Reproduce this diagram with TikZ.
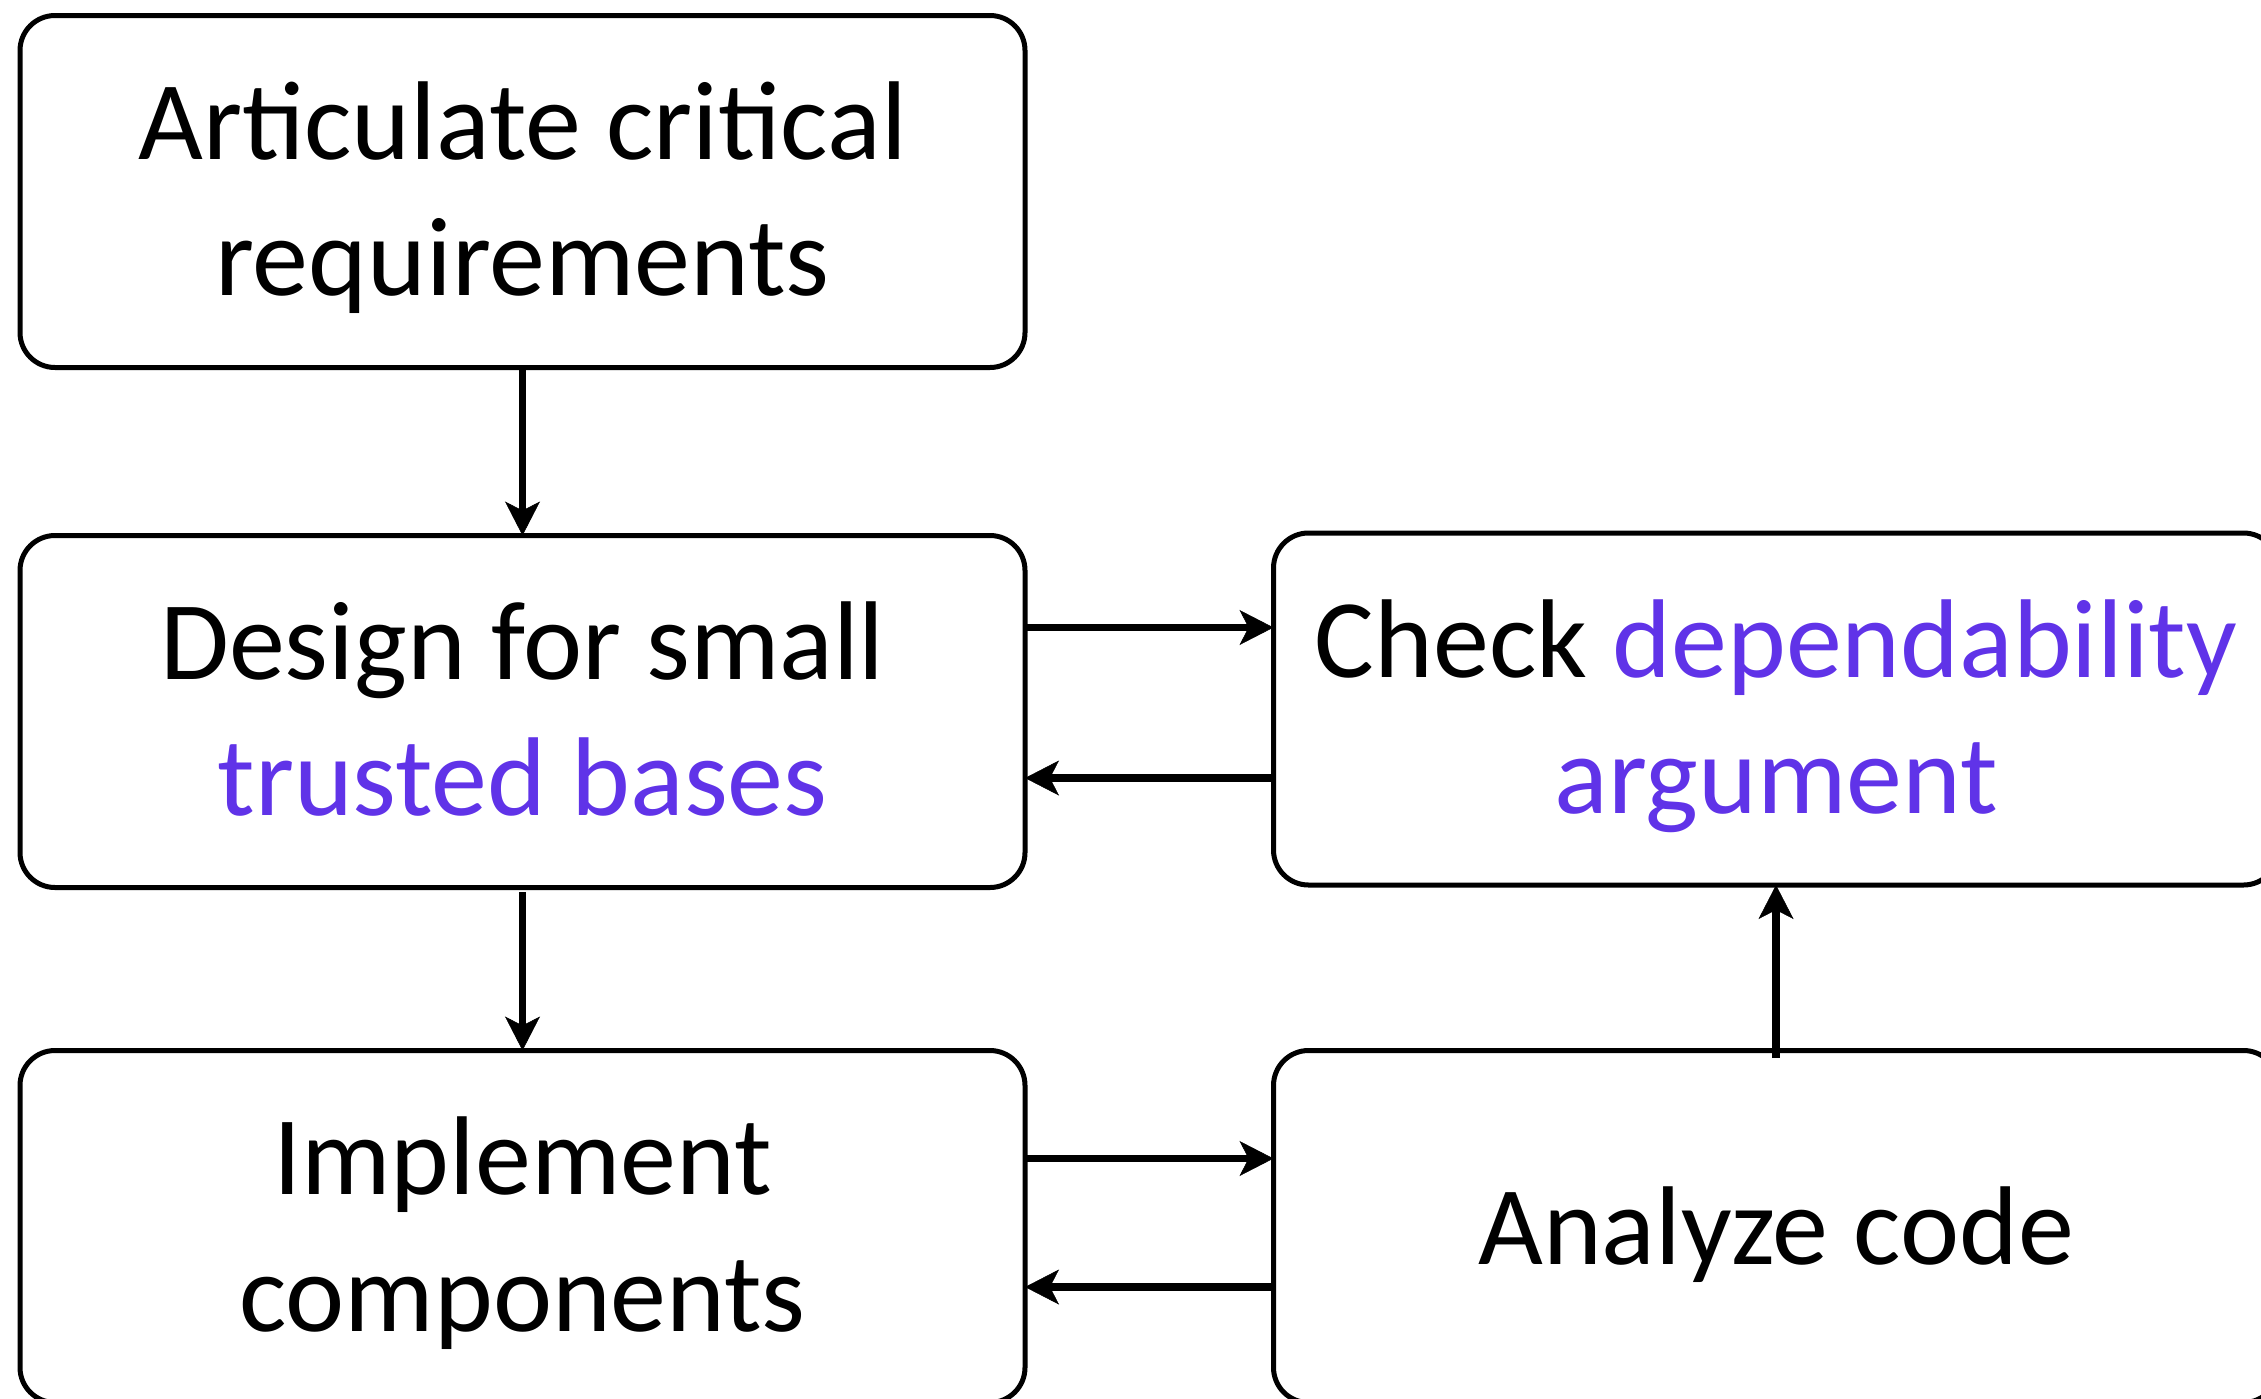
\documentclass[tikz,border=0pt]{standalone}
\usepackage{fontspec}
\setmainfont{Carlito}
\usetikzlibrary{arrows.meta}
\definecolor{accent}{RGB}{96,51,232}

\begin{document}
\begin{tikzpicture}[x=1pt,y=-1pt,
  stagebox/.style={draw=black, line width=5pt, rounded corners=35pt,
    minimum width=1005pt, minimum height=352pt, inner sep=0pt, outer sep=0pt},
  txt/.style={anchor=base, inner sep=0pt, font=\fontsize{112}{136}\selectfont},
  flow/.style={line width=7.5pt,
    -{Stealth[length=34pt,width=35pt,inset=9pt,line width=0.5pt]}}]

  \useasboundingbox (0,0) rectangle (2261,1398);

  % process stages
  \node[stagebox] (req)  at (522.5,191.5)  {};
  \node[stagebox] (des)  at (522.5,711.5)  {};
  \node[stagebox] (impl) at (522.5,1226.5) {};
  \node[stagebox] (chk)  at (1776,709)     {};
  \node[stagebox] (ana)  at (1776,1226.5)  {};

  % stage labels, one node per line
  \node[txt] (req1)  at (522.5,159)  {Articulate critical};
  \node[txt] (req2)  at (522.5,295)  {requirements};
  \node[txt] (des1)  at (522.5,679)  {Design for small};
  \node[txt, text=accent] (des2) at (522.5,815) {trusted bases};
  \node[txt] (impl1) at (522.5,1194) {Implement};
  \node[txt] (impl2) at (522.5,1331) {components};
  \node[txt] (chk1)  at (1776,677)   {Check \textcolor{accent}{dependability}};
  \node[txt, text=accent] (chk2) at (1776,813) {argument};
  \node[txt] (ana1)  at (1776,1264)  {Analyze code};

  % connectors
  \draw[flow] (req.south) -- (des.north);
  \draw[flow] ([yshift=-4.5pt]des.south) -- (impl.north);
  \draw[flow] ([yshift=84pt]des.east) -- ([yshift=84pt]des.east -| chk.west);
  \draw[flow] ([yshift=-69pt]chk.west) -- ([yshift=-69pt]chk.west -| des.east);
  \draw[flow] ([yshift=68pt]impl.east) -- ([yshift=68pt]impl.east -| ana.west);
  \draw[flow] ([yshift=-60.5pt]ana.west) -- ([yshift=-60.5pt]ana.west -| impl.east);
  \draw[flow] ([yshift=-7.5pt]ana.north) -- (chk.south);
\end{tikzpicture}
\end{document}
